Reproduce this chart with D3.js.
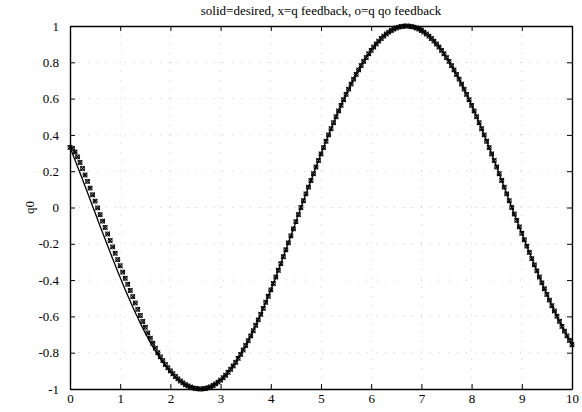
<!DOCTYPE html>
<html><head><meta charset="utf-8">
<script src="https://cdn.jsdelivr.net/npm/d3@7"></script>
<style>body{margin:0;background:#fff}</style>
</head><body>
<svg id="c" width="582" height="412"></svg>
<script>
const titleText = "solid=desired, x=q feedback, o=q qo feedback";
const yLabelText = "q0";
const xTicks = [0,1,2,3,4,5,6,7,8,9,10];
const yTicks = [-1,-0.8,-0.6,-0.4,-0.2,0,0.2,0.4,0.6,0.8,1];
const timeStart = 0;
const timeStep = 0.05;

// desired trajectory, sampled every 0.05 s from 0 to 10
const desired = [
0.331,0.296,0.261,0.226,0.190,0.154,0.117,0.081,0.044,0.007,
-0.029,-0.066,-0.103,-0.139,-0.175,-0.211,-0.247,-0.282,-0.317,-0.352,
-0.386,-0.420,-0.453,-0.485,-0.517,-0.548,-0.578,-0.608,-0.637,-0.665,
-0.692,-0.718,-0.743,-0.767,-0.790,-0.812,-0.833,-0.852,-0.871,-0.888,
-0.904,-0.919,-0.933,-0.946,-0.957,-0.967,-0.976,-0.983,-0.989,-0.994,
-0.997,-0.999,-1.000,
-0.999,-0.997,-0.993,-0.988,-0.981,-0.972,-0.962,-0.951,-0.938,-0.924,
-0.908,-0.891,-0.873,-0.853,-0.831,-0.809,-0.785,-0.760,-0.734,-0.707,
-0.679,-0.649,-0.619,-0.588,-0.556,-0.522,-0.489,-0.454,-0.419,-0.383,
-0.346,-0.309,-0.271,-0.233,-0.195,-0.156,-0.118,-0.078,-0.039,0.000,
0.037,0.075,0.112,0.149,0.186,0.223,0.259,0.295,0.330,0.365,
0.400,0.434,0.467,0.500,0.532,0.563,0.594,0.623,0.652,0.680,
0.707,0.733,0.758,0.782,0.805,0.826,0.847,0.866,0.884,0.901,
0.917,0.931,0.944,0.956,0.966,0.975,0.983,0.989,0.994,0.997,
0.999,1.000,
0.999,0.997,0.994,0.989,0.983,0.975,0.966,0.956,0.944,0.931,
0.917,0.901,0.884,0.866,0.847,0.826,0.805,0.782,0.758,0.733,
0.707,0.680,0.652,0.623,0.594,0.563,0.532,0.500,0.467,0.434,
0.400,0.365,0.330,0.295,0.259,0.223,0.186,0.149,0.112,0.075,
0.037,0.000,
-0.036,-0.071,-0.107,-0.142,-0.178,-0.213,-0.247,-0.282,-0.316,-0.349,
-0.383,-0.415,-0.448,-0.479,-0.510,-0.541,-0.570,-0.599,-0.627,-0.655,
-0.681,-0.707,-0.732,-0.756
];

// q feedback (x markers)
const qFeedback = [
0.331,0.326,0.306,0.279,0.248,0.215,0.179,0.144,0.107,0.070,
0.035,-0.002,-0.039,-0.075,-0.110,-0.146,-0.182,-0.217,-0.252,-0.287,
-0.321,-0.356,-0.390,-0.423,-0.457,-0.491,-0.526,-0.561,-0.595,-0.628,
-0.660,-0.691,-0.720,-0.748,-0.775,-0.800,-0.823,-0.844,-0.865,-0.883,
-0.900,-0.916,-0.931,-0.944,-0.956,-0.966,-0.976,-0.983,-0.989,-0.994,
-0.997,-0.999,-1.000,
-0.999,-0.997,-0.993,-0.988,-0.981,-0.972,-0.962,-0.951,-0.938,-0.924,
-0.908,-0.891,-0.873,-0.853,-0.831,-0.809,-0.785,-0.760,-0.734,-0.707,
-0.679,-0.649,-0.619,-0.588,-0.556,-0.522,-0.489,-0.454,-0.419,-0.383,
-0.346,-0.309,-0.271,-0.233,-0.195,-0.156,-0.118,-0.078,-0.039,0.000,
0.037,0.075,0.112,0.149,0.186,0.223,0.259,0.295,0.330,0.365,
0.400,0.434,0.467,0.500,0.532,0.563,0.594,0.623,0.652,0.680,
0.707,0.733,0.758,0.782,0.805,0.826,0.847,0.866,0.884,0.901,
0.917,0.931,0.944,0.956,0.966,0.975,0.983,0.989,0.994,0.997,
0.999,1.000,
0.999,0.997,0.994,0.989,0.983,0.975,0.966,0.956,0.944,0.931,
0.917,0.901,0.884,0.866,0.847,0.826,0.805,0.782,0.758,0.733,
0.707,0.680,0.652,0.623,0.594,0.563,0.532,0.500,0.467,0.434,
0.400,0.365,0.330,0.295,0.259,0.223,0.186,0.149,0.112,0.075,
0.037,0.000,
-0.036,-0.071,-0.107,-0.142,-0.178,-0.213,-0.247,-0.282,-0.316,-0.349,
-0.383,-0.415,-0.448,-0.479,-0.510,-0.541,-0.570,-0.599,-0.627,-0.655,
-0.681,-0.707,-0.732,-0.756
];

// q qo feedback (o markers)
const qQoFeedback = [
0.331,0.326,0.306,0.279,0.248,0.215,0.179,0.144,0.107,0.070,
0.035,-0.002,-0.039,-0.075,-0.110,-0.146,-0.182,-0.217,-0.252,-0.287,
-0.321,-0.356,-0.390,-0.423,-0.457,-0.491,-0.526,-0.561,-0.595,-0.628,
-0.660,-0.691,-0.720,-0.748,-0.775,-0.800,-0.823,-0.844,-0.865,-0.883,
-0.900,-0.916,-0.931,-0.944,-0.956,-0.966,-0.976,-0.983,-0.989,-0.994,
-0.997,-0.999,-1.000,
-0.999,-0.997,-0.993,-0.988,-0.981,-0.972,-0.962,-0.951,-0.938,-0.924,
-0.908,-0.891,-0.873,-0.853,-0.831,-0.809,-0.785,-0.760,-0.734,-0.707,
-0.679,-0.649,-0.619,-0.588,-0.556,-0.522,-0.489,-0.454,-0.419,-0.383,
-0.346,-0.309,-0.271,-0.233,-0.195,-0.156,-0.118,-0.078,-0.039,0.000,
0.037,0.075,0.112,0.149,0.186,0.223,0.259,0.295,0.330,0.365,
0.400,0.434,0.467,0.500,0.532,0.563,0.594,0.623,0.652,0.680,
0.707,0.733,0.758,0.782,0.805,0.826,0.847,0.866,0.884,0.901,
0.917,0.931,0.944,0.956,0.966,0.975,0.983,0.989,0.994,0.997,
0.999,1.000,
0.999,0.997,0.994,0.989,0.983,0.975,0.966,0.956,0.944,0.931,
0.917,0.901,0.884,0.866,0.847,0.826,0.805,0.782,0.758,0.733,
0.707,0.680,0.652,0.623,0.594,0.563,0.532,0.500,0.467,0.434,
0.400,0.365,0.330,0.295,0.259,0.223,0.186,0.149,0.112,0.075,
0.037,0.000,
-0.036,-0.071,-0.107,-0.142,-0.178,-0.213,-0.247,-0.282,-0.316,-0.349,
-0.383,-0.415,-0.448,-0.479,-0.510,-0.541,-0.570,-0.599,-0.627,-0.655,
-0.681,-0.707,-0.732,-0.756
];

const timeOf = i => timeStart + i * timeStep;

const svg = d3.select("#c");
const x = d3.scaleLinear().domain([0, 10]).range([70, 572]);
const y = d3.scaleLinear().domain([-1, 1]).range([389, 26]);
const FONT = "'Liberation Serif','Times New Roman',serif";

// grid (faint MATLAB dotted grid)
const grid = svg.append("g").attr("stroke", "#c4c4c4").attr("stroke-width", 0.8)
  .attr("stroke-dasharray", "1,8");
grid.selectAll(".gx").data(xTicks.slice(1, -1)).join("line")
  .attr("x1", d => x(d)).attr("x2", d => x(d)).attr("y1", y(1)).attr("y2", y(-1));
grid.selectAll(".gy").data(yTicks.slice(1, -1)).join("line")
  .attr("y1", d => y(d)).attr("y2", d => y(d)).attr("x1", x(0)).attr("x2", x(10));

// desired solid line
const line = d3.line().x((d, i) => x(timeOf(i))).y(d => y(d));
svg.append("path").datum(desired).attr("d", line)
  .attr("fill", "none").attr("stroke", "#000").attr("stroke-width", 1.3);

// x markers
const xm = 2.3;
svg.append("g").selectAll("path").data(qFeedback).join("path")
  .attr("transform", (d, i) => `translate(${x(timeOf(i))},${y(d)})`)
  .attr("d", `M${-xm},${-xm}L${xm},${xm}M${-xm},${xm}L${xm},${-xm}`)
  .attr("stroke", "#000").attr("stroke-width", 1.1).attr("fill", "none");

// o markers
svg.append("g").selectAll("circle").data(qQoFeedback).join("circle")
  .attr("cx", (d, i) => x(timeOf(i))).attr("cy", d => y(d)).attr("r", 2)
  .attr("stroke", "#000").attr("stroke-width", 1).attr("fill", "none");

// axes
const fmt = v => String(+v.toFixed(1));
const styleAxis = g => {
  g.selectAll(".domain").attr("stroke", "#000").attr("stroke-width", 1.4);
  g.selectAll(".tick line").attr("stroke", "#000").attr("stroke-width", 1);
  g.selectAll("text").attr("font-family", FONT).attr("font-size", 13).attr("fill", "#000");
};
svg.append("g").attr("transform", `translate(0,${y(-1)})`)
  .call(d3.axisBottom(x).tickValues(xTicks).tickFormat(fmt).tickSizeInner(-5).tickSizeOuter(0).tickPadding(5))
  .call(styleAxis);
svg.append("g").attr("transform", `translate(${x(0)},0)`)
  .call(d3.axisLeft(y).tickValues(yTicks).tickFormat(fmt).tickSizeInner(-5).tickSizeOuter(0).tickPadding(11))
  .call(styleAxis);
svg.append("g").attr("transform", `translate(0,${y(1)})`)
  .call(d3.axisTop(x).tickValues(xTicks).tickFormat("").tickSizeInner(-5).tickSizeOuter(0))
  .call(styleAxis);
svg.append("g").attr("transform", `translate(${x(10)},0)`)
  .call(d3.axisRight(y).tickValues(yTicks).tickFormat("").tickSizeInner(-5).tickSizeOuter(0))
  .call(styleAxis);

// title
svg.append("text").attr("x", (x(0) + x(10)) / 2).attr("y", 15)
  .attr("text-anchor", "middle").attr("font-family", FONT).attr("font-size", 13)
  .text(titleText);

// y label
svg.append("text").attr("transform", `translate(34,${y(0)}) rotate(-90)`)
  .attr("text-anchor", "middle").attr("font-family", FONT).attr("font-size", 13)
  .text(yLabelText);
</script>
</body></html>
